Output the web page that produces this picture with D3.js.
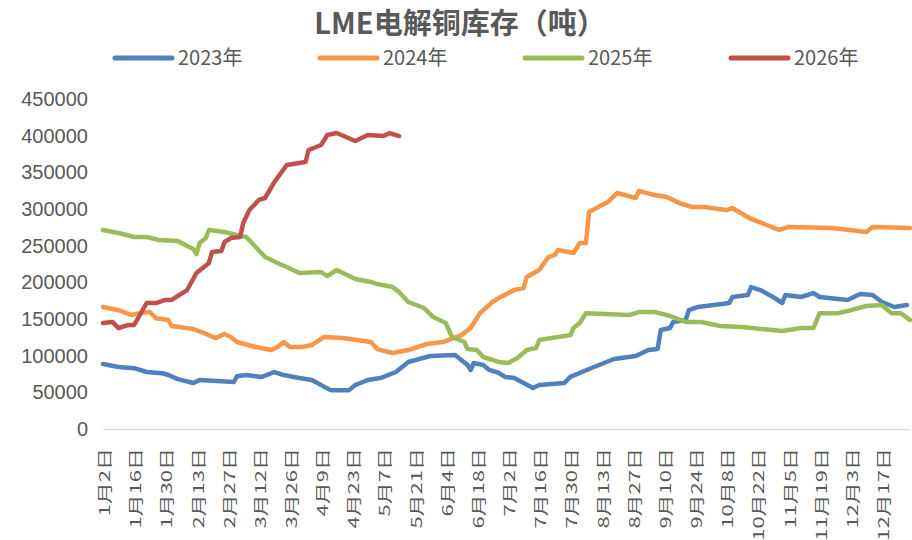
<!DOCTYPE html>
<html>
<head>
<meta charset="utf-8">
<script src="https://cdn.jsdelivr.net/npm/d3@7"></script>
<style>
html,body{margin:0;padding:0;background:#fff;}
svg{display:block;}
</style>
</head>
<body>
<svg id="chart" width="912" height="540"></svg>
<script>
// ---- data ----
const titleText = "LME电解铜库存（吨）";
const seriesNames = ["2023年", "2024年", "2025年", "2026年"];
const seriesColors = ["#4F81BD", "#F79646", "#9BBB59", "#C0504D"];
const dayCount = 260; // trading-day categories on the x axis
const tickLabels = ["1月2日","1月16日","1月30日","2月13日","2月27日","3月12日","3月26日","4月9日","4月23日","5月7日","5月21日","6月4日","6月18日","7月2日","7月16日","7月30日","8月13日","8月27日","9月10日","9月24日","10月8日","10月22日","11月5日","11月19日","12月3日","12月17日"];
const tickStep = 10; // one label per 10 trading days
const yTicks = [0,50000,100000,150000,200000,250000,300000,350000,400000,450000];

// [trading-day index, inventory (t)]
const data2023 = [[0,88600],[5,84500],[10,83000],[14,77700],[19,76000],[21,73600],[24,68000],[29,62700],[31,66800],[42,64000],[43,72000],[46,73600],[51,71000],[55,77700],[58,73600],[63,69500],[67,66800],[73,53000],[79,53000],[81,60000],[85,66800],[89,69500],[94,77700],[98,91400],[105,99500],[113,101000],[117,87300],[118,80500],[119,90000],[122,87300],[124,80500],[127,76400],[129,71000],[132,69500],[138,56000],[140,60000],[148,62700],[150,71000],[156,81800],[164,95500],[171,99500],[175,107700],[178,109000],[179,135000],[182,137700],[183,146000],[187,148600],[188,162000],[191,166400],[201,171800],[202,180000],[207,182700],[208,193600],[211,189500],[215,180000],[218,171800],[219,182700],[224,180000],[228,185400],[230,180000],[239,176000],[243,184000],[247,182700],[250,173200],[254,166400],[258,169000]];
const data2024 = [[0,166400],[5,162000],[9,155500],[12,158000],[15,159500],[17,151000],[21,148600],[22,140500],[29,136400],[34,128000],[36,124000],[39,129500],[41,125500],[43,118600],[49,111800],[54,107700],[56,111800],[58,118600],[60,111800],[64,111800],[67,114500],[71,125500],[77,124000],[86,118600],[88,109000],[93,103600],[98,107700],[104,116000],[109,118600],[115,128000],[118,137700],[121,158000],[125,173200],[127,178600],[130,185000],[132,189500],[135,192300],[136,207300],[140,216800],[143,234500],[145,237300],[146,244000],[151,240000],[153,253600],[155,253600],[156,296000],[159,302700],[162,309500],[165,321800],[171,315000],[172,324500],[177,319000],[181,316400],[185,308000],[189,302700],[193,302700],[200,298600],[202,301300],[208,286400],[213,278200],[217,271400],[220,275500],[234,274100],[245,268600],[247,275500],[259,274100]];
const data2025 = [[0,271400],[5,267300],[10,261800],[14,261800],[18,257700],[24,256400],[27,249500],[29,245500],[30,238600],[31,253600],[33,260400],[34,271400],[39,268600],[43,264500],[46,261800],[49,248200],[52,234500],[56,226400],[59,220900],[63,212700],[70,214000],[72,208600],[75,216800],[81,204500],[86,200500],[88,197700],[93,193600],[95,186800],[98,173200],[103,165000],[106,152700],[110,144500],[112,125500],[116,118600],[117,109000],[120,107700],[122,98200],[127,91400],[130,90000],[133,96800],[136,107700],[139,110500],[140,121400],[146,125500],[150,128000],[151,137700],[153,144500],[155,158000],[169,155500],[172,159500],[177,159500],[181,155500],[187,146000],[192,146000],[198,140500],[205,139100],[218,133600],[224,137700],[228,137700],[230,158000],[236,158000],[240,162000],[245,167700],[250,169000],[253,158000],[256,158000],[259,148600]];
const data2026 = [[0,144500],[3,146000],[5,137700],[8,141800],[10,141800],[14,171800],[17,171800],[20,176000],[22,176000],[27,189500],[30,212700],[34,226400],[35,241400],[38,242700],[39,255000],[41,260400],[44,261800],[45,280900],[47,298600],[50,312300],[52,315000],[55,336800],[59,360000],[63,362700],[65,364100],[66,380500],[70,387300],[72,400900],[75,403600],[78,398200],[81,392700],[85,400900],[90,399500],[92,403600],[95,399500]];
const allSeries = [data2023, data2024, data2025, data2026];

// ---- drawing ----
const svg = d3.select("#chart");
const textColor = "#595959";
const cjk = "'Noto Sans CJK SC','Noto Sans',sans-serif";
const latin = "'Liberation Sans','DejaVu Sans',sans-serif";

const x = d3.scaleLinear().domain([0, dayCount - 1]).range([103, 910]);
const y = d3.scaleLinear().domain([0, 450000]).range([429, 99]);

// title
svg.append("text")
  .attr("x", 460).attr("y", 34)
  .attr("text-anchor", "middle")
  .attr("font-family", cjk).attr("font-weight", "bold")
  .attr("font-size", 29).attr("fill", textColor)
  .text(titleText);

// legend
const legendX = [115, 320, 525, 731];
seriesNames.forEach((name, i) => {
  const g = svg.append("g").attr("transform", `translate(${legendX[i]},58)`);
  g.append("line").attr("x1", 0).attr("x2", 57).attr("y1", 0).attr("y2", 0)
    .attr("stroke", seriesColors[i]).attr("stroke-width", 5).attr("stroke-linecap", "round");
  g.append("text").attr("x", 63).attr("y", 7)
    .attr("font-family", cjk).attr("font-size", 20).attr("fill", textColor)
    .text(name);
});

// y axis
const yAxis = svg.append("g").attr("transform", "translate(88,0)")
  .call(d3.axisLeft(y).tickValues(yTicks).tickSize(0).tickPadding(0).tickFormat(d3.format("d")));
yAxis.select(".domain").remove();
yAxis.selectAll("text")
  .attr("font-family", latin).attr("font-size", 20).attr("fill", textColor);

// x axis
const xAxis = svg.append("g").attr("transform", "translate(0,429)")
  .call(d3.axisBottom(x)
    .tickValues(tickLabels.map((_, i) => i * tickStep))
    .tickSize(0)
    .tickFormat((d, i) => tickLabels[i]));
xAxis.select(".domain").attr("stroke", "#d9d9d9").attr("stroke-width", 1.5);
xAxis.selectAll(".tick text")
  .attr("font-family", cjk).attr("font-size", 22).attr("fill", textColor)
  .attr("text-anchor", "end")
  .attr("dominant-baseline", "central")
  .attr("y", 0).attr("dy", null)
  .attr("transform", "translate(0,19) scale(0.65,1) rotate(-90)");

// lines
const line = d3.line().x(d => x(d[0])).y(d => y(d[1]));
allSeries.forEach((s, i) => {
  svg.append("path").datum(s)
    .attr("d", line)
    .attr("fill", "none")
    .attr("stroke", seriesColors[i])
    .attr("stroke-width", 4.5)
    .attr("stroke-linejoin", "round")
    .attr("stroke-linecap", "round");
});
</script>
</body>
</html>
